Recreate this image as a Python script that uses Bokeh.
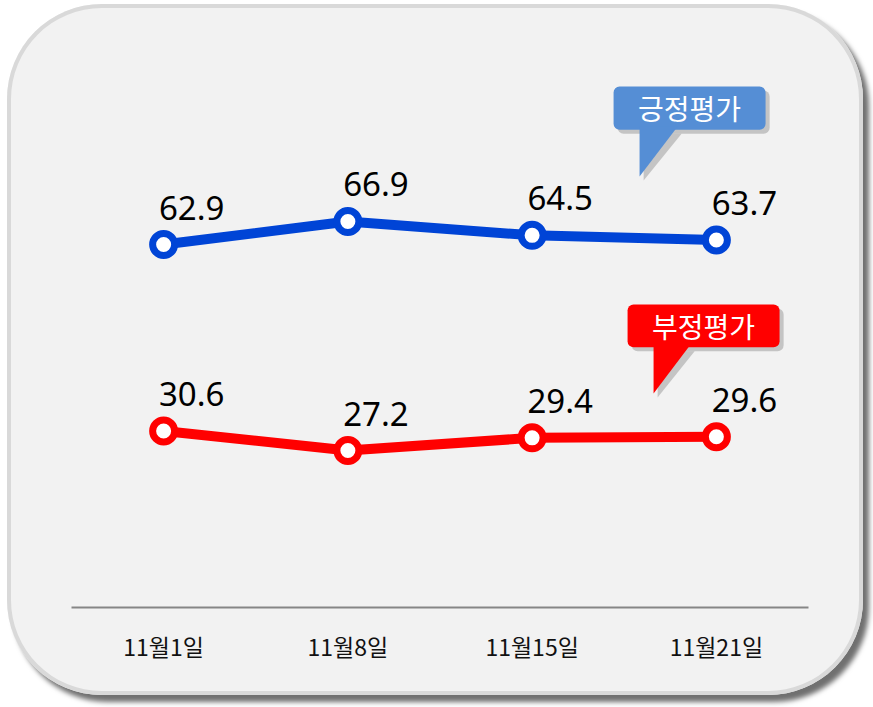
from bokeh.plotting import figure
from bokeh.models import BoxAnnotation, PolyAnnotation, Label, ColumnDataSource, FactorRange, Range1d
from bokeh.embed import file_html
from bokeh.resources import INLINE
from bokeh.core.properties import value

# ---- data ----
dates = ["11월1일", "11월8일", "11월15일", "11월21일"]
positive = [62.9, 66.9, 64.5, 63.7]
negative = [30.6, 27.2, 29.4, 29.6]
series_names = ["긍정평가", "부정평가"]

BLUE = "#0044D6"
RED = "#FF0000"
CALLOUT_BLUE = "#558ED5"

W, H = 856, 691
p = figure(width=W, height=H,
           x_range=FactorRange(*dates), y_range=Range1d(0, 100),
           output_backend="svg", toolbar_location=None,
           y_axis_location=None,
           min_border_left=64, min_border_right=55,
           min_border_top=26, min_border_bottom=88)
p.background_fill_color = None
p.border_fill_color = None
p.outline_line_color = None
p.grid.visible = False
# rounded panel with border and drop shadow (CSS on the plot element)
p.styles = {
    "margin": "4px 0 0 7px",
    "border-radius": "95px",
    "background-color": "#F2F2F2",
    "box-shadow": "inset 0 0 0 4px #D9D9D9, 6px 7px 5px #707070",
}

# ---- axis ----
ax = p.xaxis[0]
ax.axis_line_color = "#868686"
ax.axis_line_width = 2
ax.major_tick_line_color = None
ax.minor_tick_line_color = None
ax.major_label_text_font = "Noto Sans CJK KR"
ax.major_label_text_font_size = "23px"
ax.major_label_text_color = "#111111"
ax.major_label_standoff = 15

# ---- series ----
for vals, col in [(positive, BLUE), (negative, RED)]:
    src = ColumnDataSource(dict(x=dates, y=vals, t=[f"{v}" for v in vals]))
    p.line("x", "y", source=src, line_color=col, line_width=10)
    p.scatter("x", "y", source=src, size=22, fill_color="white", line_color=col, line_width=7)
    p.text("x", "y", text="t", source=src, x_offset=28, y_offset=-37,
           text_align="center", text_baseline="middle",
           text_font=value("Noto Sans"), text_font_size="33px", text_color="black")

# ---- callouts ----
def callout(left, right, top, bottom, px0, px1, tipy, color, label, cx, cy):
    dx, dy = 0.022, 0.7
    p.add_layout(BoxAnnotation(left=left + dx, right=right + dx, top=top - dy, bottom=bottom - dy,
                               fill_color="#7f7f7f", fill_alpha=0.4, line_color=None,
                               border_radius=6))
    p.add_layout(PolyAnnotation(xs=[px0 + dx, px1 + dx, px0 + dx], ys=[bottom - dy, bottom - dy, tipy - dy],
                                fill_color="#7f7f7f", fill_alpha=0.4, line_color=None))
    p.add_layout(BoxAnnotation(left=left, right=right, top=top, bottom=bottom,
                               fill_color=color, fill_alpha=1.0, line_color=None,
                               border_radius=6))
    p.add_layout(PolyAnnotation(xs=[px0, px1, px0], ys=[bottom + 0.5, bottom + 0.5, tipy],
                                fill_color=color, fill_alpha=1.0, line_color=None))
    p.add_layout(Label(x=cx, y=cy, text=label, text_align="center", text_baseline="middle",
                       text_color="white", text_font="Noto Sans CJK KR",
                       text_font_size="28px"))

callout(2.942, 3.767, 90.3, 82.8, 3.083, 3.289, 74.7, CALLOUT_BLUE, series_names[0], 3.354, 86.6)
callout(3.018, 3.843, 52.5, 45.1, 3.159, 3.360, 37.1, RED, series_names[1], 3.430, 48.8)

open("out.html", "w").write(file_html(p, INLINE))
